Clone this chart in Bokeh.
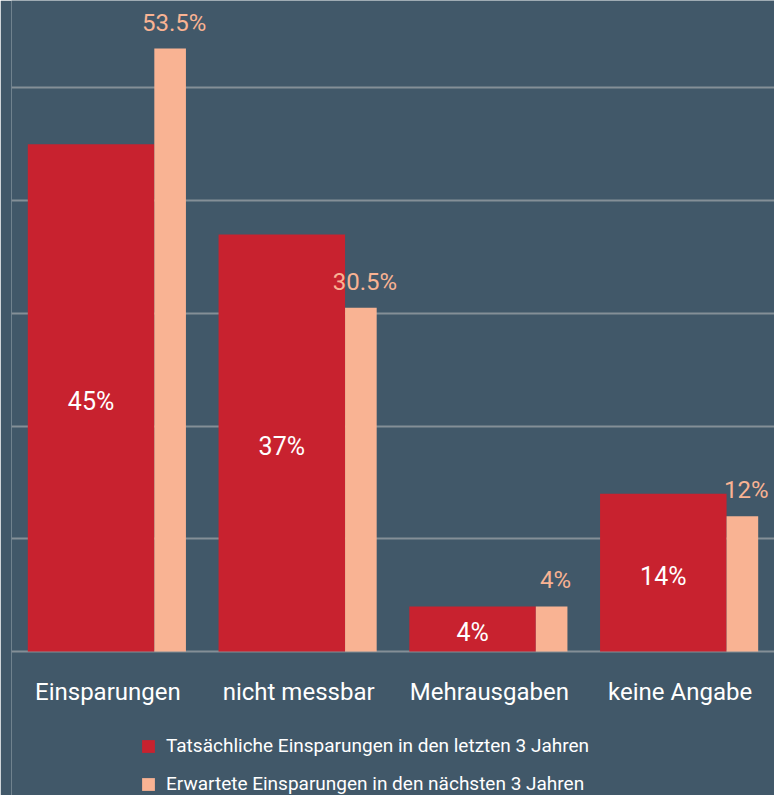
from bokeh.plotting import figure
from bokeh.models import ColumnDataSource, FactorRange, Range1d, Legend, LegendItem, FixedTicker
from bokeh.transform import dodge
from bokeh.core.properties import value
from bokeh.embed import file_html
from bokeh.resources import INLINE

categories = ["Einsparungen", "nicht messbar", "Mehrausgaben", "keine Angabe"]
actual = [45, 37, 4, 14]
expected = [53.5, 30.5, 4, 12]
series_names = ["Tatsächliche Einsparungen in den letzten 3 Jahren",
                "Erwartete Einsparungen in den nächsten 3 Jahren"]

BG = "#415869"
RED = "#c8222f"
PEACH = "#f9b393"
FONT = "Roboto"

src = ColumnDataSource(dict(
    cat=categories,
    actual=actual,
    expected=expected,
    zero=[0] * len(categories),
    actual_half=[v / 2 for v in actual],
    actual_lbl=[f"{v:g}%" for v in actual],
    expected_lbl=[f"{v:g}%" for v in expected],
))

p = figure(x_range=FactorRange(*categories), y_range=Range1d(-12.78, 57.76),
           width=774, height=795, output_backend="svg", toolbar_location=None,
           min_border_left=11, min_border_right=0, min_border_top=0, min_border_bottom=0)
p.background_fill_color = BG
p.border_fill_color = BG
p.outline_line_color = None

r1 = p.vbar(x=dodge("cat", -0.0829, range=p.x_range), top="actual", width=0.6632,
            source=src, fill_color=RED, line_color=None)
r2 = p.vbar(x=dodge("cat", 0.3316, range=p.x_range), top="expected", width=0.1658,
            source=src, fill_color=PEACH, line_color=None)

# value labels
p.text(x=dodge("cat", -0.0829, range=p.x_range), y="actual_half", text="actual_lbl",
       source=src, text_color="white", text_font=value(FONT), text_font_size="25px",
       text_align="center", text_baseline="middle", y_offset=4)
p.text(x=dodge("cat", 0.3316, range=p.x_range), y="expected", text="expected_lbl",
       source=src, text_color=PEACH, text_font=value(FONT), text_font_size="24px",
       text_align="center", text_baseline="alphabetic", x_offset=4, y_offset=-26)

# category labels (x axis labels)
p.text(x="cat", y="zero", text="cat", source=src, text_color="white",
       text_font=value(FONT), text_font_size="24px", text_align="center",
       text_baseline="alphabetic", x_offset=1, y_offset=41)

p.xaxis.visible = False
p.yaxis.visible = False
p.ygrid.ticker = FixedTicker(ticks=[0, 10, 20, 30, 40, 50])
p.ygrid.grid_line_color = "#848f97"
p.ygrid.grid_line_width = 2
p.xgrid.grid_line_color = None

legend = Legend(items=[LegendItem(label=series_names[0], renderers=[r1]),
                       LegendItem(label=series_names[1], renderers=[r2])],
                location=(129, 0), orientation="vertical",
                padding=0, margin=0, spacing=15,
                glyph_width=16, glyph_height=16, label_standoff=10,
                label_height=22,
                label_text_color="white", label_text_font=FONT,
                label_text_font_size="19px",
                background_fill_alpha=0, border_line_color=None)
p.add_layout(legend, "center")

html = file_html(p, INLINE)
html = html.replace("<body>", f"<body style=\"background-color:{BG};\">", 1)
open("out.html", "w").write(html)
